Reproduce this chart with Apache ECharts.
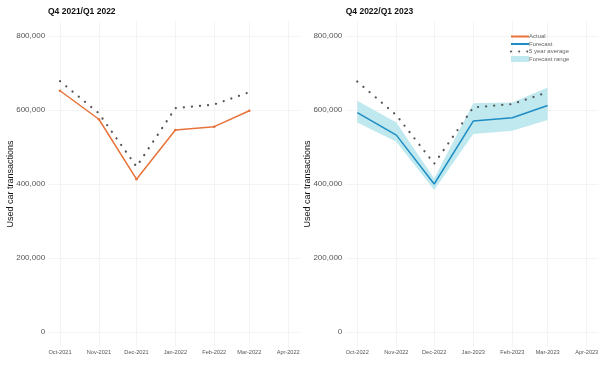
<!DOCTYPE html>
<html>
<head>
<meta charset="utf-8">
<script src="https://cdn.jsdelivr.net/npm/echarts@6/dist/echarts.min.js"></script>
<style>html,body{margin:0;padding:0;background:#fff}#c{width:604px;height:372px}</style>
</head>
<body>
<div id="c"></div>
<script>
// ---- data ----
const months1 = ['2021-10-01','2021-11-01','2021-12-01','2022-01-01','2022-02-01','2022-03-01'];
const months2 = ['2022-10-01','2022-11-01','2022-12-01','2023-01-01','2023-02-01','2023-03-01'];
const ticks1 = ['2021-10-01','2021-11-01','2021-12-01','2022-01-01','2022-02-01','2022-03-01','2022-04-01'];
const ticks2 = ['2022-10-01','2022-11-01','2022-12-01','2023-01-01','2023-02-01','2023-03-01','2023-04-01'];
const actual1 = [652000, 575000, 413000, 546000, 555000, 598000];
const avg1 = [678000, 591000, 447000, 605000, 615000, 648000];
const forecast2 = [593000, 532000, 400000, 570000, 579000, 612000];
const rangeLow2 = [566000, 514000, 384000, 535000, 544000, 573000];
const rangeHigh2 = [625000, 566000, 415000, 618000, 620000, 661000];
const avg2 = [677000, 586000, 455000, 607000, 616000, 648000];
const yTicks = [0, 200000, 400000, 600000, 800000];
const titles = ['Q4 2021/Q1 2022', 'Q4 2022/Q1 2023'];

const ts = s => { const p = s.split('-').map(Number); return Date.UTC(p[0], p[1]-1, p[2]); };
const MN = ['Jan','Feb','Mar','Apr','May','Jun','Jul','Aug','Sep','Oct','Nov','Dec'];
const fmtMonth = v => { const d = new Date(v); return MN[d.getUTCMonth()] + '-' + d.getUTCFullYear(); };
const pair = (xs, ys) => xs.map((x, i) => [ts(x), ys[i]]);

const ORANGE = '#e8733a', BLUE = '#1f8dc3', BAND = '#bfe8ef', GREY = '#555555';

function xAxis(gi, ticks) {
  const t = ticks.map(ts);
  const span = t[t.length-1] - t[0];
  return {
    type: 'value', gridIndex: gi,
    min: t[0] - span*0.05, max: t[t.length-1] + span*0.05,
    axisLine: {show: false},
    axisTick: {show: false, customValues: t},
    axisLabel: {customValues: t, formatter: fmtMonth, fontSize: 5.6, color: '#555', margin: 3, fontFamily: 'Liberation Sans', hideOverlap: false},
    splitLine: {show: true, lineStyle: {color: '#ececec', width: 0.6}}
  };
}
function yAxis(gi) {
  return {
    type: 'value', gridIndex: gi, min: -40000, max: 840000,
    name: 'Used car transactions', nameLocation: 'middle', nameRotate: 90, nameGap: 34, nameMoveOverlap: false,
    nameTextStyle: {fontSize: 9, color: '#111', fontFamily: 'Liberation Sans'},
    axisLine: {show: false},
    axisTick: {show: false, customValues: yTicks},
    axisLabel: {customValues: yTicks, fontSize: 8, color: '#555', margin: 3.5, fontFamily: 'Liberation Sans',
      formatter: v => v.toLocaleString('en-US')},
    splitLine: {show: true, lineStyle: {color: '#ececec', width: 0.6}}
  };
}
const dotted = {type: [0.1, 8], width: 2.2, cap: 'round', color: GREY};

const bandData = months2.map((m, i) => [ts(m), rangeLow2[i], rangeHigh2[i]]);

const option = {
  animation: false,
  backgroundColor: '#fff',
  textStyle: {fontFamily: 'Liberation Sans'},
  title: [
    {text: titles[0], left: 43, top: 2, textStyle: {fontSize: 8.5, fontWeight: 'bold', color: '#111'}},
    {text: titles[1], left: 340.7, top: 2, textStyle: {fontSize: 8.5, fontWeight: 'bold', color: '#111'}}
  ],
  grid: [
    {left: 48.6, width: 251, top: 21.2, height: 325.6},
    {left: 345.8, width: 252.4, top: 21.2, height: 325.6}
  ],
  xAxis: [xAxis(0, ticks1), xAxis(1, ticks2)],
  yAxis: [yAxis(0), yAxis(1)],
  legend: {
    orient: 'vertical', left: 505, top: 28.5, itemWidth: 18, itemHeight: 6, itemGap: 1.5,
    textStyle: {fontSize: 6, color: '#666', padding: [0, 0, 0, -5]},
    data: [
      {name: 'Actual', itemStyle: {opacity: 0}},
      {name: 'Forecast', itemStyle: {opacity: 0}},
      {name: '5 year average', itemStyle: {opacity: 0}},
      {name: 'Forecast range', icon: 'rect', itemStyle: {color: BAND}}
    ]
  },
  series: [
    {name: 'Actual', type: 'line', xAxisIndex: 0, yAxisIndex: 0, data: pair(months1, actual1),
      symbol: 'circle', symbolSize: 2.5, lineStyle: {color: ORANGE, width: 1.5}, itemStyle: {color: ORANGE}, z: 5},
    {name: '5 year average', type: 'line', xAxisIndex: 0, yAxisIndex: 0, data: pair(months1, avg1),
      symbol: 'none', lineStyle: dotted, itemStyle: {color: GREY}, z: 4},
    {name: 'Forecast range', type: 'custom', xAxisIndex: 1, yAxisIndex: 1, data: bandData,
      itemStyle: {color: BAND}, z: 1, silent: true,
      renderItem: (params, api) => {
        if (params.dataIndex !== 0) return null;
        const upper = bandData.map(d => api.coord([d[0], d[2]]));
        const lower = bandData.map(d => api.coord([d[0], d[1]])).reverse();
        return {type: 'polygon', shape: {points: upper.concat(lower)}, style: {fill: BAND}};
      }},
    {name: 'Forecast', type: 'line', xAxisIndex: 1, yAxisIndex: 1, data: pair(months2, forecast2),
      symbol: 'none', lineStyle: {color: BLUE, width: 1.5}, itemStyle: {color: BLUE}, z: 5},
    {name: '5 year average', type: 'line', xAxisIndex: 1, yAxisIndex: 1, data: pair(months2, avg2),
      symbol: 'none', lineStyle: dotted, itemStyle: {color: GREY}, z: 4}
  ]
};
const chart = echarts.init(document.getElementById('c'), null, {renderer: 'canvas'});
chart.setOption(option);
</script>
</body>
</html>
